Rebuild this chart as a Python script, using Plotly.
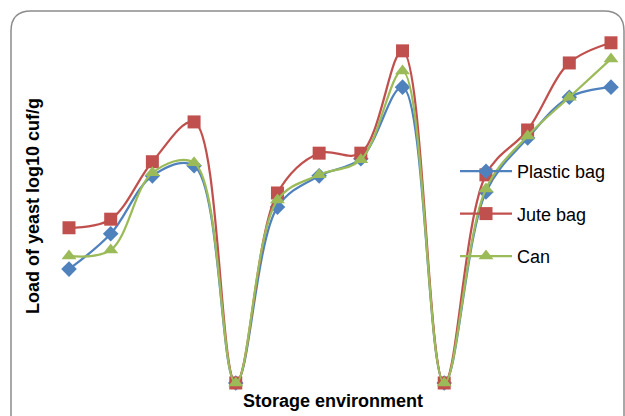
import plotly.graph_objects as go

# Sampling points along the x axis (one per storage condition / time step)
points = list(range(14))

series_names = ["Plastic bag", "Jute bag", "Can"]
plastic_bag = [2.26, 2.96, 4.11, 4.31, 0.0, 3.49, 4.11, 4.45, 5.87, 0.0, 3.79, 4.86, 5.67, 5.87]
jute_bag = [3.08, 3.25, 4.39, 5.18, 0.0, 3.77, 4.56, 4.56, 6.59, 0.0, 4.13, 5.02, 6.35, 6.75]
can = [2.52, 2.64, 4.17, 4.37, 0.0, 3.63, 4.13, 4.43, 6.19, 0.0, 3.85, 4.90, 5.67, 6.43]

colors = ["#4F81BD", "#C0504D", "#9BBB59"]
symbols = ["diamond", "square", "triangle-up"]
sizes = [12, 13, 13]

W, H = 625, 416


def px(x):
    return x / W


def py(y):
    return 1 - y / H


fig = go.Figure()
for i, (name, vals) in enumerate(zip(series_names, [plastic_bag, jute_bag, can])):
    fig.add_trace(go.Scatter(
        x=points, y=vals, name=name, mode="lines+markers",
        line=dict(color=colors[i], width=2.25, shape="spline", smoothing=1.0),
        marker=dict(symbol=symbols[i], size=sizes[i], color=colors[i]),
        cliponaxis=False, legendgroup=name,
    ))

# Rounded chart-area border
x0, y0, x1, y1, r = 11, 11, 624, 440, 20
path = (
    f"M {px(x0)} {py(y1)} L {px(x0)} {py(y0 + r)} "
    f"Q {px(x0)} {py(y0)} {px(x0 + r)} {py(y0)} "
    f"L {px(x1 - r)} {py(y0)} "
    f"Q {px(x1)} {py(y0)} {px(x1)} {py(y0 + r)} "
    f"L {px(x1)} {py(y1)}"
)

title_font = dict(family="Liberation Sans, Arial", size=18, color="black")

fig.update_layout(
    width=W, height=H, autosize=False,
    margin=dict(l=0, r=0, t=0, b=0),
    paper_bgcolor="white", plot_bgcolor="rgba(0,0,0,0)",
    xaxis=dict(range=[-1.655, 13.336], visible=False, fixedrange=True),
    yaxis=dict(range=[-0.655, 7.599], visible=False, fixedrange=True),
    shapes=[dict(type="path", xref="paper", yref="paper", path=path,
                 line=dict(color="#8C8C8C", width=1.5), layer="above")],
    annotations=[
        dict(text="<b>Storage environment</b>", xref="paper", yref="paper",
             x=px(333), y=py(401), xanchor="center", yanchor="middle",
             showarrow=False, font=title_font),
        dict(text="<b>Load of yeast log10 cuf/g</b>", xref="paper", yref="paper",
             x=px(33), y=py(206), xanchor="center", yanchor="middle",
             showarrow=False, textangle=-90, font=title_font),
    ],
    legend=dict(x=px(455), y=py(153), xanchor="left", yanchor="top",
                bgcolor="rgba(0,0,0,0)", traceorder="grouped", tracegroupgap=16,
                font=dict(family="Liberation Sans, Arial", size=18, color="black"),
                itemwidth=52),
    showlegend=True,
)

fig.write_html("out.html")
